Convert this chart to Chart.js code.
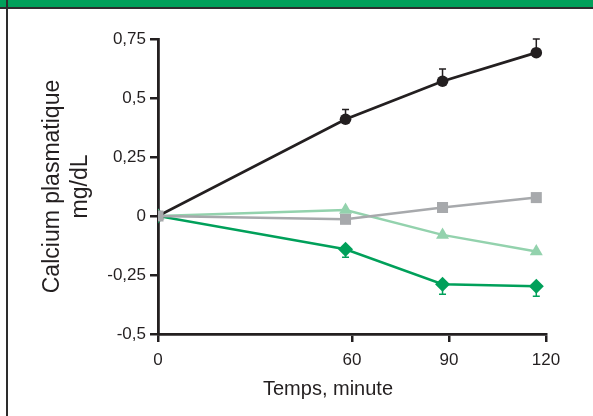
<!DOCTYPE html>
<html>
<head>
<meta charset="utf-8">
<script src="https://cdn.jsdelivr.net/npm/chart.js@4.4.0/dist/chart.umd.min.js"></script>
<style>
    html, body { margin: 0; padding: 0; background: #fff; }
    #frame { position: relative; width: 593px; height: 416px; overflow: hidden; }
    #bar { position: absolute; left: 0; top: 0; width: 593px; height: 7px; background: #00a05a; border-bottom: 2px solid #2d2d2d; }
    #side { position: absolute; left: 6px; top: 0; width: 2px; height: 416px; background: #2d2d2d; }
    canvas { position: absolute; left: 0; top: 0; }
</style>
</head>
<body>
<div id="frame">
    <div id="bar"></div>
    <div id="side"></div>
    <canvas id="chart" width="593" height="416"></canvas>
</div>
<script>
// Data
var minutes = [0, 58, 88, 117];
var xTicks = [0, 60, 90, 120];
var yTicks = [-0.5, -0.25, 0, 0.25, 0.5, 0.75];
var yTickLabels = ['-0,5', '-0,25', '0', '0,25', '0,5', '0,75'];

var blackValues = [0, 0.41, 0.571, 0.692];
var blackErrors = [0, 0.041, 0.052, 0.058];
var greyValues = [0, -0.014, 0.036, 0.078];
var paleGreenValues = [0, 0.025, -0.08, -0.15];
var greenValues = [0, -0.141, -0.289, -0.298];
var greenErrors = [0, 0.034, 0.043, 0.042];

var ink = '#231f20';
var fontFamily = '"Liberation Sans", Arial, sans-serif';

var toPoints = function(values) {
    return values.map(function(v, i) {
        return {x: minutes[i], y: v};
    });
};

// Error bars: a stem from the point and a small cap, one side only
var errorBars = {
    id: 'errorBars',
    beforeDatasetsDraw: function(chart) {
        var ctx = chart.ctx;
        var yScale = chart.scales.y;
        chart.data.datasets.forEach(function(ds, di) {
            if (!ds.errors) {
                return;
            }
            var meta = chart.getDatasetMeta(di);
            ctx.save();
            ctx.strokeStyle = ds.borderColor;
            ctx.lineWidth = 1.5;
            meta.data.forEach(function(pt, i) {
                var err = ds.errors[i];
                if (!err) {
                    return;
                }
                var yEnd = yScale.getPixelForValue(ds.data[i].y + ds.errorSide * err);
                ctx.beginPath();
                ctx.moveTo(pt.x, pt.y);
                ctx.lineTo(pt.x, yEnd);
                ctx.moveTo(pt.x - 3.5, yEnd);
                ctx.lineTo(pt.x + 3.5, yEnd);
                ctx.stroke();
            });
            ctx.restore();
        });
    }
};

// x axis title sits left of the axis centre in the original
var xTitle = {
    id: 'xTitle',
    afterDraw: function(chart) {
        var ctx = chart.ctx;
        ctx.save();
        ctx.fillStyle = ink;
        ctx.font = '20px ' + fontFamily;
        ctx.textAlign = 'center';
        ctx.textBaseline = 'alphabetic';
        ctx.fillText('Temps, minute', chart.chartArea.left + 170, 395);
        ctx.restore();
    }
};

new Chart(document.getElementById('chart'), {
    type: 'line',
    data: {
        datasets: [
            {
                data: toPoints(greyValues),
                borderColor: '#a7a9ac',
                backgroundColor: '#a7a9ac',
                borderWidth: 2.5,
                pointStyle: 'rect',
                pointRadius: 7.8,
                pointBorderWidth: 0
            },
            {
                data: toPoints(blackValues),
                errors: blackErrors,
                errorSide: 1,
                borderColor: ink,
                backgroundColor: ink,
                borderWidth: 2.8,
                pointStyle: 'circle',
                pointRadius: 5.8,
                pointBorderWidth: 0
            },
            {
                data: toPoints(paleGreenValues),
                borderColor: '#93d2ad',
                backgroundColor: '#93d2ad',
                borderWidth: 2.5,
                pointStyle: 'triangle',
                pointRadius: 7.5,
                pointBorderWidth: 0
            },
            {
                data: toPoints(greenValues),
                errors: greenErrors,
                errorSide: -1,
                borderColor: '#00a05a',
                backgroundColor: '#00a05a',
                borderWidth: 2.5,
                pointStyle: 'rectRot',
                pointRadius: 7.5,
                pointBorderWidth: 0
            }
        ]
    },
    options: {
        responsive: false,
        animation: false,
        layout: {
            padding: {left: 10, top: 39, right: 47, bottom: 0}
        },
        plugins: {
            legend: {display: false},
            tooltip: {enabled: false}
        },
        scales: {
            x: {
                type: 'linear',
                min: 0,
                max: 120,
                afterBuildTicks: function(scale) {
                    scale.ticks = xTicks.map(function(v) { return {value: v}; });
                },
                afterFit: function(scale) {
                    scale.height = 82;
                },
                grid: {
                    drawOnChartArea: false,
                    drawTicks: true,
                    tickLength: 8,
                    lineWidth: 2.5,
                    color: ink
                },
                border: {color: ink, width: 2.8},
                ticks: {
                    color: ink,
                    font: {family: fontFamily, size: 17},
                    padding: 8,
                    maxRotation: 0,
                    autoSkip: false
                }
            },
            y: {
                min: -0.5,
                max: 0.75,
                afterBuildTicks: function(scale) {
                    scale.ticks = yTicks.map(function(v) { return {value: v}; });
                },
                afterFit: function(scale) {
                    scale.width = 148;
                },
                grid: {
                    drawOnChartArea: false,
                    drawTicks: true,
                    tickLength: 8,
                    lineWidth: 2.5,
                    color: ink
                },
                border: {color: ink, width: 2.8},
                ticks: {
                    color: ink,
                    font: {family: fontFamily, size: 17},
                    padding: 4,
                    callback: function(value) {
                        return yTickLabels[yTicks.indexOf(value)];
                    }
                },
                title: {
                    display: true,
                    text: ['Calcium plasmatique', 'mg/dL'],
                    color: ink,
                    font: {family: fontFamily, size: 23, lineHeight: 1.22},
                    padding: {top: 29, bottom: 0}
                }
            }
        }
    },
    plugins: [errorBars, xTitle]
});
</script>
</body>
</html>
